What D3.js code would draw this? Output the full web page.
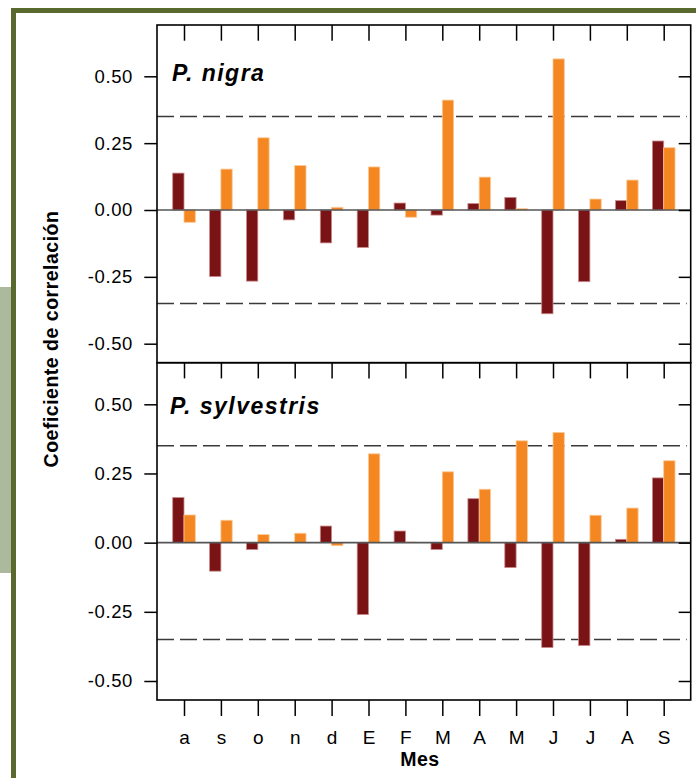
<!DOCTYPE html>
<html>
<head>
<meta charset="utf-8">
<script src="https://cdn.jsdelivr.net/npm/d3@7"></script>
<style>
  html, body { margin: 0; padding: 0; background: #fff; }
  svg { display: block; }
  text { font-family: "Liberation Sans", Arial, sans-serif; fill: #000; }
</style>
</head>
<body>
<svg id="chart" width="696" height="778"></svg>
<script>
// ---- data ----
const months = ["a", "s", "o", "n", "d", "E", "F", "M", "A", "M", "J", "J", "A", "S"];
const panelNames = ["P. nigra", "P. sylvestris"];
// P. nigra
const nigraDark   = [0.138, -0.249, -0.266, -0.037, -0.123, -0.140, 0.026, -0.019, 0.024, 0.047, -0.388, -0.268, 0.035, 0.258];
const nigraOrange = [-0.046, 0.153, 0.270, 0.166, 0.010, 0.161, -0.027, 0.411, 0.123, 0.005, 0.565, 0.041, 0.112, 0.233];
// P. sylvestris
const sylvDark    = [0.163, -0.103, -0.025, 0.000, 0.060, -0.260, 0.042, -0.025, 0.159, -0.090, -0.379, -0.372, 0.012, 0.234];
const sylvOrange  = [0.100, 0.081, 0.029, 0.034, -0.011, 0.321, 0.002, 0.256, 0.193, 0.368, 0.398, 0.099, 0.125, 0.296];
const yTicks = [-0.50, -0.25, 0.00, 0.25, 0.50];
const threshold = 0.35;
const yTitle = "Coeficiente de correlación";
const xTitle = "Mes";

// ---- layout ----
const svg = d3.select("#chart");
const darkColor = "#7a1316", darkEdge = "#c98a8a";
const orangeColor = "#f48722", orangeEdge = "#fbc896";
const frameColor = "#5a6a2e";

// decorative background
svg.append("rect").attr("x", 0).attr("y", 287).attr("width", 11).attr("height", 286).attr("fill", "#acb99d");
svg.append("rect").attr("x", 11).attr("y", 8).attr("width", 685).attr("height", 5).attr("fill", frameColor);
svg.append("rect").attr("x", 11).attr("y", 8).attr("width", 5).attr("height", 770).attr("fill", frameColor);

const left = 157, right = 690.7;
const x = d3.scalePoint().domain(d3.range(months.length)).range([184, 663.7]);
const barW = 11.3;

const panels = [
  { name: panelNames[0], dark: nigraDark, orange: nigraOrange, top: 25, bottom: 362.7,
    y: d3.scaleLinear().domain([-0.5, 0.5]).range([343.7, 76.3]), labelY: 81 },
  { name: panelNames[1], dark: sylvDark, orange: sylvOrange, top: 362.7, bottom: 700,
    y: d3.scaleLinear().domain([-0.5, 0.5]).range([681, 404.3]), labelY: 414 }
];

panels.forEach((p, pi) => {
  const g = svg.append("g");
  const y = p.y;

  // threshold dashed lines
  [threshold, -threshold].forEach(v => {
    g.append("line").attr("x1", left).attr("x2", right - 4)
      .attr("y1", y(v)).attr("y2", y(v))
      .attr("stroke", "#3a3a3a").attr("stroke-width", 1.5)
      .attr("stroke-dasharray", "17,6");
  });

  // bars
  const series = [
    { vals: p.dark, fill: darkColor, edge: darkEdge, off: -barW },
    { vals: p.orange, fill: orangeColor, edge: orangeEdge, off: 0 }
  ];
  series.forEach(s => {
    g.selectAll(null).data(s.vals).enter().append("rect")
      .attr("x", (d, i) => x(i) + s.off)
      .attr("width", barW)
      .attr("y", d => Math.min(y(d), y(0)))
      .attr("height", d => Math.abs(y(d) - y(0)))
      .attr("fill", s.fill)
      .attr("stroke", s.edge)
      .attr("stroke-width", 0.8);
  });

  // zero line
  g.append("line").attr("x1", left).attr("x2", right)
    .attr("y1", y(0)).attr("y2", y(0))
    .attr("stroke", "#555").attr("stroke-width", 1.6);

  // left axis with labels
  const ax = g.append("g").attr("transform", `translate(${left},0)`)
    .call(d3.axisLeft(y).tickValues(yTicks).tickSize(12.7).tickPadding(11.3)
      .tickFormat(d => d.toFixed(2)));
  ax.select(".domain").remove();
  ax.selectAll("line").attr("stroke", "#000").attr("stroke-width", 1.5);
  ax.selectAll("text").attr("font-size", 18.5).attr("letter-spacing", 0.6)
    .attr("font-family", "Liberation Sans, Arial, sans-serif").attr("fill", "#000");

  // right axis ticks (inward)
  const axr = g.append("g").attr("transform", `translate(${right},0)`)
    .call(d3.axisLeft(y).tickValues(yTicks).tickSize(12).tickFormat(""));
  axr.select(".domain").remove();
  axr.selectAll("line").attr("stroke", "#000").attr("stroke-width", 1.5);

  // top ticks (inward)
  const axt = g.append("g").attr("transform", `translate(0,${p.top})`)
    .call(d3.axisBottom(x).tickSize(15.7).tickFormat(""));
  axt.select(".domain").remove();
  axt.selectAll("line").attr("stroke", "#000").attr("stroke-width", 1.5);

  // panel frame
  g.append("rect").attr("x", left).attr("y", p.top)
    .attr("width", right - left).attr("height", p.bottom - p.top)
    .attr("fill", "none").attr("stroke", "#000").attr("stroke-width", 1.6);

  // panel label
  g.append("text").attr("x", pi === 0 ? 172 : 170).attr("y", p.labelY)
    .attr("font-size", 23).attr("font-weight", "bold").attr("font-style", "italic")
    .attr("letter-spacing", 1.5)
    .text(p.name);

  // bottom axis for last panel
  if (pi === panels.length - 1) {
    const axb = g.append("g").attr("transform", `translate(0,${p.bottom})`)
      .call(d3.axisBottom(x).tickSize(16).tickPadding(14.9).tickFormat(i => months[i]));
    axb.select(".domain").remove();
    axb.selectAll("line").attr("stroke", "#000").attr("stroke-width", 1.5);
    axb.selectAll("text").attr("font-size", 19)
      .attr("font-family", "Liberation Sans, Arial, sans-serif").attr("fill", "#000");
  }
});

// axis titles
svg.append("text")
  .attr("transform", "translate(58,339) rotate(-90)")
  .attr("text-anchor", "middle")
  .attr("font-size", 19.5).attr("font-weight", "bold").attr("letter-spacing", 0.5)
  .text(yTitle);

svg.append("text")
  .attr("x", 420).attr("y", 766)
  .attr("text-anchor", "middle")
  .attr("font-size", 19.5).attr("font-weight", "bold").attr("letter-spacing", 0.5)
  .text(xTitle);
</script>
</body>
</html>
